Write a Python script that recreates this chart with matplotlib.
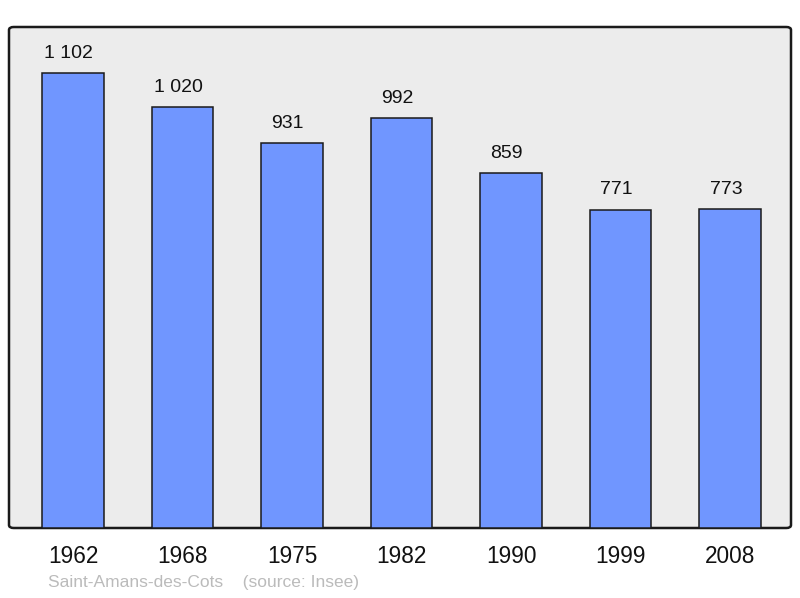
import matplotlib.pyplot as plt
from matplotlib.patches import FancyBboxPatch

plt.rcParams['font.family'] = ['Liberation Sans', 'DejaVu Sans']

# Population data
years = ['1962', '1968', '1975', '1982', '1990', '1999', '2008']
population = [1102, 1020, 931, 992, 859, 771, 773]
value_labels = ['1 102', '1 020', '931', '992', '859', '771', '773']

fig = plt.figure(figsize=(8, 5.98), dpi=100)
ax = fig.add_axes([9 / 800, 1 - 528 / 598, 782 / 800, 501 / 598])

# Rounded grey background with border
ax.patch.set_visible(False)
for s in ax.spines.values():
    s.set_visible(False)
bg = FancyBboxPatch((0, 0), 1, 1, boxstyle='round,pad=0,rounding_size=0.006',
                    transform=ax.transAxes, facecolor='#ececec',
                    edgecolor='#1a1a1a', linewidth=1.8, zorder=0, clip_on=False)
ax.add_patch(bg)

x = list(range(len(years)))
ax.bar(x, population, width=0.566, color='#7096ff', edgecolor='#1a1a1a',
       linewidth=1.1, zorder=2)

for xi, v, lab in zip(x, population, value_labels):
    ax.annotate(lab, (xi, v), xytext=(-3, 8), textcoords='offset points',
                ha='center', va='bottom', fontsize=14, color='#111111')

ax.set_xlim(-0.5845, 6.557)
ax.set_ylim(0, 1213)
ax.set_yticks([])
ax.set_xticks(x)
ax.set_xticklabels(years, fontsize=16.3, color='#111111')
ax.tick_params(axis='x', length=0, pad=12)

fig.text(48 / 800, 1 - 583 / 598, 'Saint-Amans-des-Cots    (source: Insee)',
         fontsize=12.5, color='#bbbbbb', ha='left', va='center')

plt.savefig('out.png', dpi=100)
